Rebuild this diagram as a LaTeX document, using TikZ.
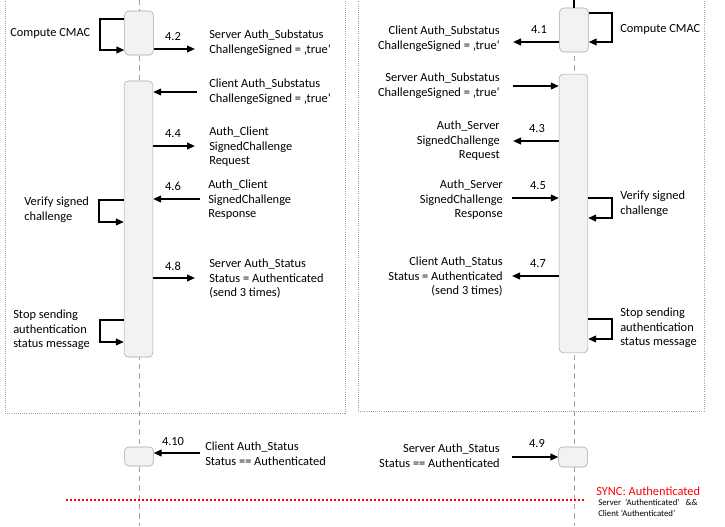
\documentclass[tikz,border=0pt]{standalone}
\usepackage{fontspec}
\setmainfont{Carlito}
\usepackage{xcolor}
\usetikzlibrary{arrows.meta}
\definecolor{zonec}{HTML}{8FA2C7}
\definecolor{boxc}{HTML}{A6A6A6}
\definecolor{boxf}{HTML}{F2F2F2}
\definecolor{lifec}{HTML}{A0A0A0}

\begin{document}
\begin{tikzpicture}[x=0.75pt, y=-0.75pt, font=\fontsize{9.3}{10.9}\selectfont,
    act/.style = {draw=boxc, fill=boxf, rounded corners=3pt, minimum width=21.5pt, inner sep=0pt},
    msg/.style = {line width=1.3pt, -{Triangle[length=6pt, width=5pt]}},
    txt/.style = {inner sep=0pt, align=left, anchor=west},
    rtxt/.style = {inner sep=0pt, align=right, anchor=east},
    num/.style = {inner sep=0pt},
    zone/.style = {draw=zonec, densely dotted, line width=0.6pt},
    life/.style = {draw=lifec, dash pattern=on 4pt off 3pt, line width=0.6pt}]
    \useasboundingbox (0,0) rectangle (725,526);
    \clip (0,0) rectangle (725,526);

    % frames and lifelines
    \draw[zone] (5,-5) rectangle (345,413);
    \draw[zone] (358,-5) rectangle (704,411);
    \coordinate (lt) at (139,0);
    \coordinate (lb) at (139,526);
    \coordinate (rt) at (574,0);
    \coordinate (rb) at (574,526);
    \draw[life] (lt) -- (lb);
    \draw[life] (rt) -- (rb);

    % activation boxes
    \node[act, minimum height=33pt] (l1) at (139,33) {};
    \node[act, minimum height=207pt] (l2) at (138.5,219) {};
    \node[act, minimum height=14.25pt] (l3) at (139,456.5) {};
    \node[act, minimum height=33pt] (r1) at (574,30) {};
    \node[act, minimum height=209pt] (r2) at (573.5,213.5) {};
    \node[act, minimum height=15pt] (r3) at (573,457) {};
    \draw[line width=0.8pt] (rt) -- (r1.north);

    % left side
    \coordinate (a1) at (100,19);
    \coordinate (b1) at (100,50);
    \draw[msg] (l1.west |- a1) -- (a1) -- (b1) -- (l1.west |- b1);
    \node[txt] (t1) at (10,33) {Compute CMAC};
    \coordinate (m42) at (195,49);
    \draw[msg] (l1.east |- m42) -- (m42);
    \node[num] (n42) at (173,37) {4.2};
    \node[txt] (t42) at (209,42.5) {Server Auth\_Substatus\\ChallengeSigned = ‚true‘};
    \coordinate (m41) at (197,92);
    \draw[msg] (m41) -- (l2.east |- m41);
    \node[txt] (t41) at (209,91.5) {Client Auth\_Substatus\\ChallengeSigned = ‚true‘};
    \coordinate (m44) at (195,146);
    \draw[msg] (l2.east |- m44) -- (m44);
    \node[num] (n44) at (173,134) {4.4};
    \node[txt] (t44) at (209,147) {Auth\_Client\\SignedChallenge\\Request};
    \coordinate (m46) at (200,199);
    \draw[msg] (m46) -- (l2.east |- m46);
    \node[num] (n46) at (173,186) {4.6};
    \node[txt] (t46) at (208,200) {Auth\_Client\\SignedChallenge\\Response};
    \coordinate (a2) at (99,200);
    \coordinate (b2) at (99,222);
    \draw[msg] (l2.west |- a2) -- (a2) -- (b2) -- (l2.west |- b2);
    \node[txt] (t2) at (24,209.5) {Verify signed\\challenge};
    \coordinate (m48) at (195,278);
    \draw[msg] (l2.east |- m48) -- (m48);
    \node[num] (n48) at (173,266) {4.8};
    \node[txt] (t48) at (209,279) {Server Auth\_Status\\Status = Authenticated\\(send 3 times)};
    \coordinate (a3) at (100,320);
    \coordinate (b3) at (100,342);
    \draw[msg] (l2.west |- a3) -- (a3) -- (b3) -- (l2.west |- b3);
    \node[txt] (t3) at (13,330) {Stop sending\\authentication\\status message};
    \coordinate (m410) at (200,453);
    \draw[msg] (m410) -- (l3.east |- m410);
    \node[num] (n410) at (173,442) {4.10};
    \node[txt] (t410) at (205,453.5) {Client Auth\_Status\\Status == Authenticated};

    % right side
    \coordinate (c1) at (612,13);
    \coordinate (d1) at (612,42);
    \draw[msg] (r1.east |- c1) -- (c1) -- (d1) -- (r1.east |- d1);
    \node[txt] (u1) at (620,29) {Compute CMAC};
    \coordinate (m41r) at (513,42);
    \draw[msg] (r1.west |- m41r) -- (m41r);
    \node[num] (n41) at (539,30) {4.1};
    \node[rtxt] (u41) at (500,39) {Client Auth\_Substatus\\ChallengeSigned = ‚true‘};
    \coordinate (m42r) at (513,86);
    \draw[msg] (m42r) -- (r2.west |- m42r);
    \node[rtxt] (u42) at (500,86) {Server Auth\_Substatus\\ChallengeSigned = ‚true‘};
    \coordinate (m43) at (513,141);
    \draw[msg] (r2.west |- m43) -- (m43);
    \node[num] (n43) at (537,129) {4.3};
    \node[rtxt] (u43) at (500,141) {Auth\_Server\\SignedChallenge\\Request};
    \coordinate (m45) at (512,198);
    \draw[msg] (m45) -- (r2.west |- m45);
    \node[num] (n45) at (538,186) {4.5};
    \node[rtxt] (u45) at (503,200) {Auth\_Server\\SignedChallenge\\Response};
    \coordinate (c2) at (612,198);
    \coordinate (d2) at (612,218);
    \draw[msg] (r2.east |- c2) -- (c2) -- (d2) -- (r2.east |- d2);
    \node[txt] (u2) at (620,203.5) {Verify signed\\challenge};
    \coordinate (m47) at (512,276);
    \draw[msg] (r2.west |- m47) -- (m47);
    \node[num] (n47) at (538,264) {4.7};
    \node[rtxt] (u47) at (503,277) {Client Auth\_Status\\Status = Authenticated\\(send 3 times)};
    \coordinate (c3) at (612,319);
    \coordinate (d3) at (612,339);
    \draw[msg] (r2.east |- c3) -- (c3) -- (d3) -- (r2.east |- d3);
    \node[txt] (u3) at (620,328) {Stop sending\\authentication\\status message};
    \coordinate (m49) at (512,457);
    \draw[msg] (m49) -- (r3.west |- m49);
    \node[num] (n49) at (537,444) {4.9};
    \node[rtxt] (u49) at (500,455.5) {Server Auth\_Status\\Status == Authenticated};

    % sync line
    \coordinate (s1) at (66,500);
    \coordinate (s2) at (584,500);
    \draw[red, line width=1.5pt, dash pattern=on 1.5pt off 1.5pt] (s1) -- (s2);
    \node[txt, red] (sync) at (596,491) {SYNC: Authenticated};
    \node[txt, font=\fontsize{6.6}{8.25}\selectfont] (cond) at (598,507.5) {Server\ \ ‘Authenticated’\ \ \ \&\&\\Client\ ‘Authenticated’};
\end{tikzpicture}
\end{document}
